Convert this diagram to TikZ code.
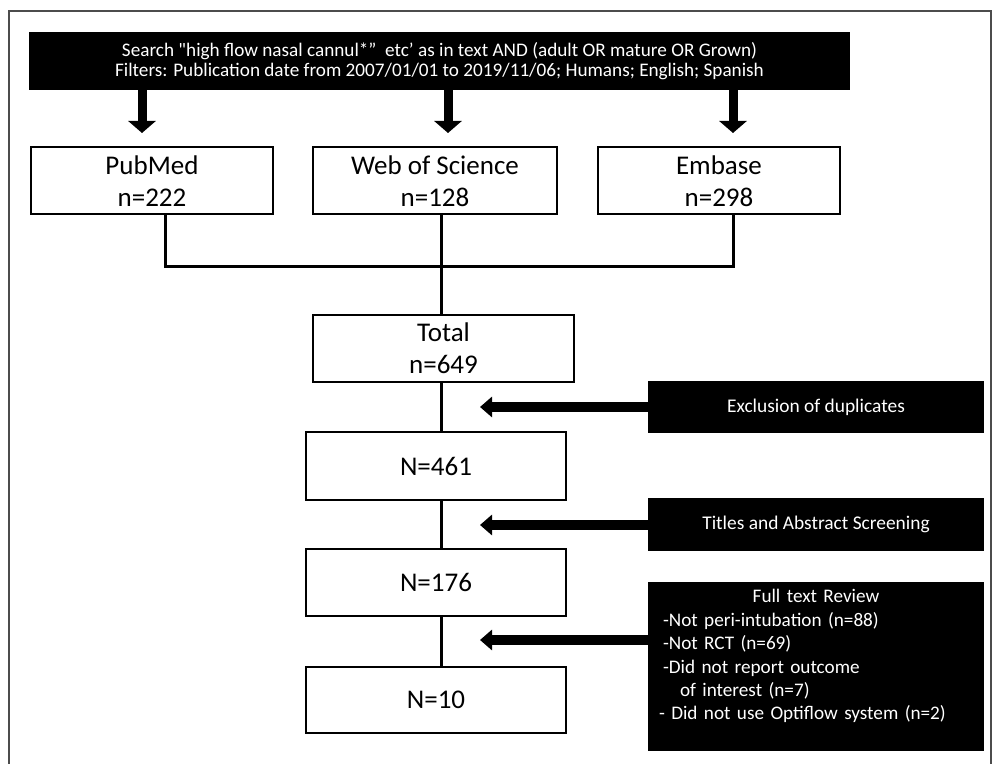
\documentclass[tikz,border=0pt]{standalone}
\usepackage{fontspec}
\setmainfont{Carlito}[Ligatures=TeXOff]
\usetikzlibrary{arrows.meta}

\begin{document}
\begin{tikzpicture}[x=0.5pt, y=-0.5pt,
    box/.style={draw, line width=1pt, minimum height=33.5pt, align=center, inner sep=0pt,
      font=\fontsize{13.5}{16}\selectfont},
    blackbox/.style={fill=black, text=white, inner sep=0pt, minimum width=168pt,
      font=\fontsize{9.7}{10}\selectfont},
    link/.style={line width=1.5pt},
    fat/.style={line width=4.5pt, -{Triangle[width=13.5pt, length=6pt]}},
    flat/.style={line width=5pt, -{Triangle[width=10pt, length=6pt]}}]
  \useasboundingbox (0,0) rectangle (993,764);
  \draw[black!70, line width=1pt] (9,764) -- (9,11) -- (991,11) -- (991,764);

  \node[blackbox, minimum width=410.5pt, minimum height=29pt, align=center,
    font=\fontsize{9.6}{10}\selectfont] (search) at (439.5,61)
    {Search "high flow nasal cannul*”\ \ etc’ as in text AND (adult OR mature OR Grown)\\
     Filters: Publication date from 2007/01/01 to 2019/11/06; Humans; English; Spanish};

  \node[box, minimum width=121pt] (pubmed) at (152,181) {PubMed\\n=222};
  \node[box, minimum width=122pt] (wos) at (435,181) {Web of Science\\n=128};
  \node[box, minimum width=121pt] (embase) at (719,181) {Embase\\n=298};

  \node[box, minimum width=130.5pt] (total) at (443.5,348.5) {Total\\n=649};
  \node[box, minimum width=130pt, minimum height=34pt] (n461) at (436,466) {N=461};
  \node[box, minimum width=130pt] (n176) at (436,582.5) {N=176};
  \node[box, minimum width=130pt, minimum height=33pt] (n10) at (436,700) {N=10};

  \node[blackbox, minimum height=26pt] (excl) at (816,407) {Exclusion of duplicates};
  \node[blackbox, minimum height=26.5pt] (titles) at (816,524.5) {Titles and Abstract Screening};
  \node[blackbox, minimum height=84.5pt, text width=157pt, inner xsep=5.5pt, align=left,
    font=\fontsize{9.6}{11.7}\selectfont] (full) at (816,666.5)
    {\makebox[157pt]{Full text Review}\\
     \hspace*{2pt}-Not peri-intubation (n=88)\\
     \hspace*{2pt}-Not RCT (n=69)\\
     \hspace*{2pt}-Did not report outcome\\
     \hspace*{10.5pt}of interest (n=7)\\
     - Did not use Optiflow system (n=2)\\
     \mbox{}};

  \coordinate (tipP) at (142,133);
  \coordinate (tipW) at (448,133);
  \coordinate (tipE) at (733,133);
  \foreach \T in {tipP, tipW, tipE} {
    \draw[fat] (search.south -| \T) -- (\T);
  }

  \coordinate (jL) at (165,267);
  \coordinate (jR) at (733,267);
  \coordinate (spine) at (441,0);
  \draw[link] (pubmed.south -| jL) -- (jL) -- (jR) -- (embase.south -| jR);
  \foreach \A/\B in {wos/total, total/n461, n461/n176, n176/n10} {
    \draw[link] (\A.south -| spine) -- (\B.north -| spine);
  }

  \coordinate (x1) at (480,407);
  \coordinate (x2) at (480,525);
  \coordinate (x3) at (480,640);
  \foreach \B/\T in {excl/x1, titles/x2, full/x3} {
    \draw[flat] (\B.west |- \T) -- (\T);
  }
\end{tikzpicture}
\end{document}
